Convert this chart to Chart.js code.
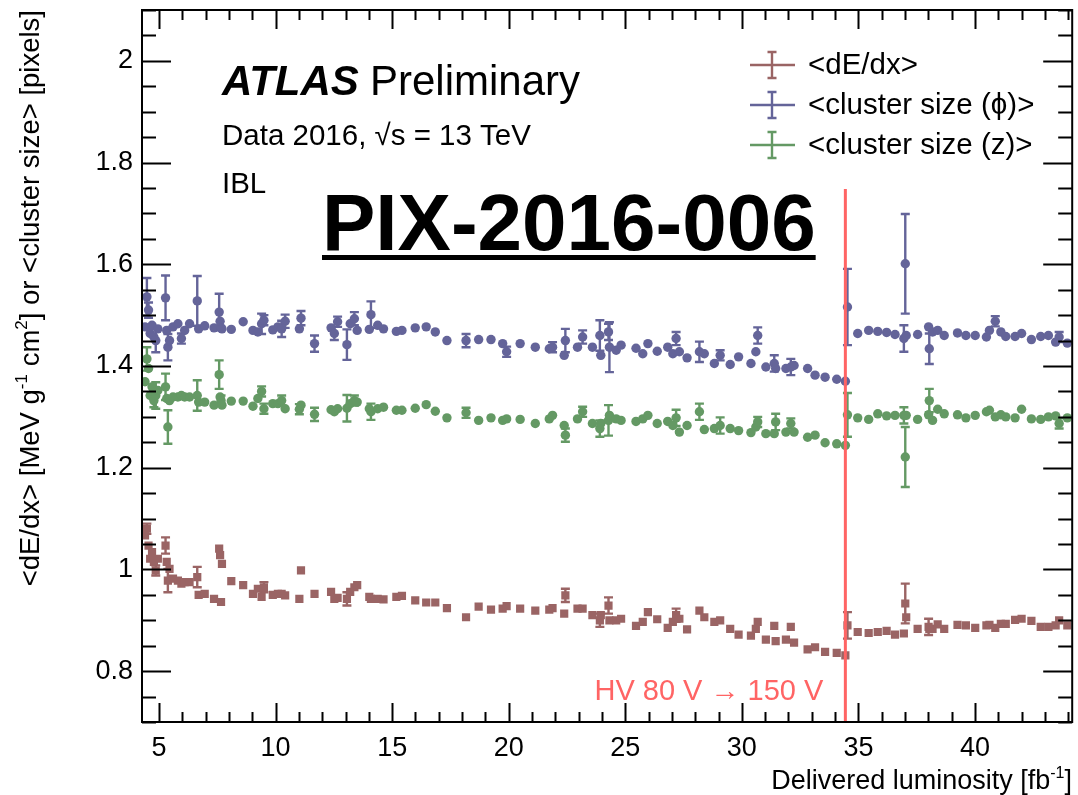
<!DOCTYPE html>
<html>
<head>
<meta charset="utf-8">
<script src="https://cdn.jsdelivr.net/npm/chart.js@4.4.1/dist/chart.umd.min.js"></script>
<style>
  html, body { margin: 0; padding: 0; background: #fff; }
  #wrap { width: 1078px; height: 795px; position: relative; }
</style>
</head>
<body>
<div id="wrap"><canvas id="c"></canvas></div>
<script>
// Delivered luminosity of each run [fb^-1]
const lumi = [
  4.40, 4.48, 4.55, 4.62, 4.70, 4.78, 4.86, 4.95, 5.28, 5.33,
  5.38, 5.45, 5.60, 5.81, 5.96, 6.10, 6.31, 6.64, 6.70, 6.96,
  7.36, 7.58, 7.62, 7.66, 7.70, 8.10, 8.61, 9.03, 9.24, 9.40,
  9.50, 9.88, 10.10, 10.26, 10.41, 11.02, 11.09, 11.67, 12.38, 12.52,
  12.66, 13.06, 13.20, 13.38, 13.50, 14.02, 14.09, 14.38, 14.63, 15.18,
  15.42, 15.99, 16.46, 16.85, 17.35, 18.17, 18.71, 19.24, 19.74, 19.91,
  20.49, 21.14, 21.74, 21.88, 22.38, 22.43, 22.95, 23.17, 23.59, 23.91,
  23.95, 24.28, 24.32, 24.61, 24.82, 25.46, 25.75, 25.97, 26.37, 26.82,
  27.04, 27.18, 27.32, 27.65, 28.18, 28.39, 28.82, 29.07, 29.50, 29.86,
  30.39, 30.60, 30.68, 31.03, 31.39, 31.45, 31.89, 32.10, 32.24, 32.82,
  33.14, 33.57, 34.07, 34.44, 34.53, 34.97, 35.44, 35.83, 36.21, 36.57,
  36.95, 37.01, 37.05, 37.54, 38.01, 38.04, 38.18, 38.40, 38.68, 39.25,
  39.61, 40.01, 40.49, 40.62, 40.87, 41.11, 41.32, 41.72, 42.00, 42.42,
  42.82, 43.15, 43.46, 43.61, 43.96
];

// <dE/dx> [MeV g^-1 cm^2]
const dEdx = [
  1.067, 1.080, 1.047, 1.021, 1.034, 1.015, 0.998, 1.021, 1.047, 1.015,
  0.978, 1.001, 0.982, 0.978, 0.972, 0.975, 0.975, 0.985, 0.950, 0.952,
  0.942, 1.041, 1.028, 0.936, 1.011, 0.977, 0.969, 0.952, 0.962, 0.946,
  0.965, 0.950, 0.952, 0.952, 0.949, 0.942, 0.998, 0.952, 0.956, 0.942,
  0.944, 0.942, 0.956, 0.965, 0.969, 0.946, 0.942, 0.942, 0.941, 0.946,
  0.948, 0.939, 0.935, 0.935, 0.924, 0.906, 0.927, 0.921, 0.923, 0.928,
  0.923, 0.919, 0.921, 0.924, 0.913, 0.949, 0.923, 0.923, 0.910, 0.900,
  0.910, 0.929, 0.900, 0.900, 0.903, 0.889, 0.897, 0.916, 0.902, 0.885,
  0.897, 0.910, 0.903, 0.882, 0.919, 0.906, 0.897, 0.900, 0.883, 0.872,
  0.870, 0.883, 0.897, 0.862, 0.889, 0.859, 0.862, 0.887, 0.856, 0.843,
  0.847, 0.838, 0.836, 0.831, 0.890, 0.877, 0.875, 0.877, 0.879, 0.872,
  0.874, 0.933, 0.906, 0.883, 0.887, 0.883, 0.883, 0.892, 0.883, 0.891,
  0.890, 0.885, 0.890, 0.891, 0.885, 0.893, 0.893, 0.901, 0.903, 0.899,
  0.887, 0.887, 0.890, 0.900, 0.890
];
const dEdxErr = [
  0, 0.010, 0, 0, 0, 0, 0.010, 0, 0.016, 0,
  0.023, 0, 0, 0, 0, 0, 0, 0.020, 0, 0,
  0, 0, 0, 0, 0, 0, 0, 0, 0, 0,
  0.010, 0, 0, 0, 0, 0, 0, 0, 0, 0,
  0, 0.013, 0, 0, 0, 0, 0, 0, 0, 0,
  0, 0, 0, 0, 0, 0, 0, 0, 0, 0,
  0, 0, 0, 0, 0, 0.013, 0, 0, 0, 0.013,
  0, 0.016, 0, 0, 0, 0, 0, 0, 0, 0,
  0, 0.013, 0, 0, 0, 0, 0, 0, 0, 0,
  0, 0, 0, 0, 0, 0, 0, 0, 0, 0,
  0, 0, 0, 0, 0.026, 0, 0, 0, 0, 0,
  0, 0.039, 0, 0, 0.016, 0, 0, 0, 0, 0,
  0, 0, 0, 0, 0, 0, 0, 0, 0, 0,
  0, 0, 0, 0, 0
];

// <cluster size (phi)> [pixels]
const clusterPhi = [
  1.477, 1.536, 1.510, 1.464, 1.480, 1.457, 1.450, 1.473, 1.534, 1.470,
  1.437, 1.450, 1.477, 1.483, 1.454, 1.470, 1.483, 1.528, 1.473, 1.479,
  1.475, 1.506, 1.488, 1.475, 1.473, 1.472, 1.487, 1.470, 1.467, 1.483,
  1.490, 1.471, 1.477, 1.473, 1.488, 1.473, 1.494, 1.444, 1.475, 1.464,
  1.487, 1.442, 1.483, 1.493, 1.470, 1.472, 1.501, 1.480, 1.473, 1.468,
  1.470, 1.475, 1.477, 1.467, 1.450, 1.450, 1.452, 1.452, 1.444, 1.428,
  1.444, 1.437, 1.434, 1.437, 1.421, 1.450, 1.437, 1.457, 1.437, 1.460,
  1.421, 1.467, 1.437, 1.431, 1.441, 1.435, 1.424, 1.444, 1.429, 1.437,
  1.424, 1.454, 1.428, 1.416, 1.428, 1.424, 1.405, 1.421, 1.403, 1.418,
  1.405, 1.428, 1.460, 1.398, 1.405, 1.395, 1.395, 1.398, 1.401, 1.395,
  1.382, 1.378, 1.374, 1.370, 1.516, 1.464, 1.470, 1.468, 1.466, 1.462,
  1.454, 1.601, 1.460, 1.462, 1.477, 1.434, 1.467, 1.470, 1.460, 1.465,
  1.460, 1.460, 1.457, 1.470, 1.488, 1.467, 1.458, 1.458, 1.464, 1.452,
  1.458, 1.460, 1.447, 1.457, 1.445
];
const clusterPhiErr = [
  0, 0.037, 0.015, 0, 0, 0, 0.023, 0, 0.044, 0,
  0.026, 0, 0, 0, 0.010, 0, 0, 0.049, 0, 0,
  0, 0.036, 0, 0, 0, 0, 0, 0, 0, 0.020,
  0.010, 0, 0, 0.016, 0.013, 0, 0.014, 0.016, 0, 0.013,
  0.010, 0.030, 0, 0.013, 0, 0, 0.026, 0, 0, 0,
  0, 0, 0, 0, 0, 0.013, 0, 0, 0, 0.010,
  0, 0, 0, 0.010, 0, 0.023, 0, 0.013, 0, 0.030,
  0, 0.016, 0.049, 0, 0, 0, 0, 0, 0, 0,
  0, 0.013, 0, 0, 0.020, 0, 0, 0.010, 0, 0,
  0, 0, 0.016, 0, 0.016, 0, 0, 0.016, 0, 0,
  0, 0, 0, 0, 0.075, 0, 0, 0, 0, 0,
  0.026, 0.098, 0, 0, 0, 0.030, 0, 0, 0, 0,
  0, 0, 0, 0, 0.010, 0, 0, 0, 0, 0,
  0, 0, 0, 0.010, 0
];

// <cluster size (z)> [pixels]
const clusterZ = [
  1.369, 1.414, 1.395, 1.342, 1.359, 1.332, 1.342, 1.352, 1.359, 1.336,
  1.280, 1.332, 1.339, 1.339, 1.342, 1.339, 1.339, 1.342, 1.329, 1.329,
  1.323, 1.383, 1.339, 1.332, 1.323, 1.331, 1.331, 1.321, 1.336, 1.350,
  1.316, 1.326, 1.326, 1.332, 1.316, 1.315, 1.323, 1.305, 1.314, 1.310,
  1.316, 1.317, 1.326, 1.332, 1.329, 1.316, 1.310, 1.316, 1.319, 1.313,
  1.313, 1.317, 1.324, 1.311, 1.298, 1.308, 1.293, 1.298, 1.293, 1.296,
  1.295, 1.287, 1.296, 1.303, 1.283, 1.264, 1.296, 1.310, 1.287, 1.277,
  1.287, 1.293, 1.303, 1.296, 1.293, 1.291, 1.296, 1.303, 1.287, 1.291,
  1.283, 1.298, 1.270, 1.283, 1.310, 1.275, 1.277, 1.283, 1.277, 1.273,
  1.269, 1.280, 1.290, 1.267, 1.267, 1.290, 1.270, 1.287, 1.270, 1.260,
  1.264, 1.249, 1.247, 1.244, 1.304, 1.298, 1.295, 1.306, 1.302, 1.303,
  1.303, 1.221, 1.303, 1.295, 1.304, 1.332, 1.293, 1.315, 1.306, 1.304,
  1.298, 1.303, 1.310, 1.313, 1.300, 1.304, 1.300, 1.298, 1.315, 1.296,
  1.295, 1.300, 1.302, 1.287, 1.298
];
const clusterZErr = [
  0, 0.023, 0, 0, 0, 0.013, 0.026, 0, 0.026, 0,
  0.033, 0, 0, 0, 0, 0, 0, 0.030, 0, 0,
  0, 0.028, 0, 0.010, 0, 0, 0, 0, 0, 0.010,
  0.010, 0, 0, 0.010, 0, 0.010, 0, 0.013, 0, 0,
  0, 0.026, 0, 0.010, 0, 0, 0.016, 0, 0, 0,
  0, 0, 0, 0, 0, 0.010, 0, 0, 0, 0,
  0, 0, 0, 0, 0, 0.013, 0, 0.010, 0, 0.016,
  0, 0.030, 0, 0, 0, 0, 0, 0, 0, 0,
  0, 0.016, 0, 0, 0.016, 0, 0, 0.016, 0, 0,
  0, 0, 0.010, 0, 0, 0.016, 0, 0.010, 0, 0,
  0, 0, 0, 0, 0.043, 0, 0, 0, 0, 0,
  0.016, 0.059, 0, 0, 0, 0.023, 0, 0, 0, 0,
  0, 0, 0, 0, 0, 0, 0, 0, 0, 0,
  0, 0, 0, 0.010, 0
];

// Axis ticks
const xMajorTicks = [5, 10, 15, 20, 25, 30, 35, 40];
const yMajorTicks = [0.8, 1.0, 1.2, 1.4, 1.6, 1.8, 2.0];

// Luminosity at which the IBL bias voltage was raised
const hvChangeLumi = 34.44;

const FONT = '"Liberation Sans", Arial, Helvetica, sans-serif';

const series = [
  { label: '<dE/dx>',            values: dEdx,       errors: dEdxErr,       color: '#9a6464', pointStyle: 'rect',   radius: 5.8 },
  { label: '<cluster size (\u03D5)>', values: clusterPhi, errors: clusterPhiErr, color: '#646499', pointStyle: 'circle', radius: 4.7 },
  { label: '<cluster size (z)>', values: clusterZ,   errors: clusterZErr,   color: '#649964', pointStyle: 'circle', radius: 4.7 }
];

// Text with superscript pieces; parts = [[text, isSup], ...]
function richWidth(ctx, parts, size) {
  let w = 0;
  for (const [t, sup] of parts) {
    ctx.font = (sup ? Math.round(size * 0.6) : size) + 'px ' + FONT;
    w += ctx.measureText(t).width;
  }
  return w;
}
function drawRich(ctx, parts, x, y, size) {
  let cx = x;
  for (const [t, sup] of parts) {
    ctx.font = (sup ? Math.round(size * 0.6) : size) + 'px ' + FONT;
    ctx.fillText(t, cx, sup ? y - size * 0.42 : y);
    cx += ctx.measureText(t).width;
  }
}

const decor = {
  id: 'decor',
  beforeDatasetsDraw(chart) {
    const { ctx, scales: { x, y } } = chart;
    ctx.save();
    ctx.lineWidth = 2.4;
    for (const s of series) {
      ctx.strokeStyle = s.color;
      s.values.forEach((v, i) => {
        const e = s.errors[i];
        if (!e) return;
        const px = x.getPixelForValue(lumi[i]);
        const yTop = y.getPixelForValue(v + e);
        const yBot = y.getPixelForValue(v - e);
        ctx.beginPath();
        ctx.moveTo(px, yTop); ctx.lineTo(px, yBot);
        ctx.moveTo(px - 4.5, yTop); ctx.lineTo(px + 4.5, yTop);
        ctx.moveTo(px - 4.5, yBot); ctx.lineTo(px + 4.5, yBot);
        ctx.stroke();
      });
    }
    ctx.restore();
  },
  afterDatasetsDraw(chart) {
    const { ctx, chartArea: a, scales: { x, y } } = chart;
    ctx.save();

    // HV change marker
    const hx = x.getPixelForValue(hvChangeLumi);
    ctx.strokeStyle = '#ff6464';
    ctx.lineWidth = 3;
    ctx.beginPath();
    ctx.moveTo(hx, 189); ctx.lineTo(hx, a.bottom);
    ctx.stroke();
    ctx.fillStyle = '#ff6464';
    ctx.font = '29px ' + FONT;
    ctx.textAlign = 'right';
    ctx.textBaseline = 'alphabetic';
    ctx.fillText('HV 80 V \u2192 150 V', hx - 22, 700);

    // frame
    ctx.strokeStyle = '#000';
    ctx.lineWidth = 2;
    ctx.strokeRect(a.left, a.top, a.right - a.left, a.bottom - a.top);

    // y ticks (left and right, pointing inwards)
    ctx.beginPath();
    for (let k = 0; k <= 28; k++) {
      const v = 0.7 + k * 0.05;
      const py = Math.round(y.getPixelForValue(v)) + 0.5;
      const major = Math.abs(((v - 0.8) / 0.2) - Math.round((v - 0.8) / 0.2)) < 1e-6;
      const len = major ? 29 : 14;
      ctx.moveTo(a.left, py); ctx.lineTo(a.left + len, py);
      ctx.moveTo(a.right, py); ctx.lineTo(a.right - len, py);
    }
    // x ticks (bottom and top)
    for (let v = 5; v <= 44; v++) {
      const px = Math.round(x.getPixelForValue(v)) + 0.5;
      const len = v % 5 === 0 ? 19 : 10;
      ctx.moveTo(px, a.bottom); ctx.lineTo(px, a.bottom - len);
      ctx.moveTo(px, a.top); ctx.lineTo(px, a.top + len);
    }
    ctx.stroke();

    // labels
    ctx.fillStyle = '#000';
    ctx.textAlign = 'left';
    ctx.font = 'italic bold 42px ' + FONT;
    ctx.fillText('ATLAS', 222, 95);
    ctx.font = '42px ' + FONT;
    ctx.fillText('Preliminary', 370, 95);
    ctx.font = '29.5px ' + FONT;
    ctx.fillText('Data 2016, \u221As = 13 TeV', 222, 145);
    ctx.fillText('IBL', 222, 193);

    ctx.font = 'bold 80px ' + FONT;
    ctx.fillText('PIX-2016-006', 322, 250);
    const pw = ctx.measureText('PIX-2016-006').width;
    ctx.fillRect(322, 255, pw, 5);

    // legend
    ctx.font = '29.5px ' + FONT;
    ctx.lineWidth = 2.4;
    series.forEach((s, i) => {
      const cy = 65 + i * 40;
      ctx.strokeStyle = s.color;
      ctx.beginPath();
      ctx.moveTo(750, cy); ctx.lineTo(795, cy);
      ctx.moveTo(772, cy - 13); ctx.lineTo(772, cy + 13);
      ctx.moveTo(767.5, cy - 13); ctx.lineTo(776.5, cy - 13);
      ctx.moveTo(767.5, cy + 13); ctx.lineTo(776.5, cy + 13);
      ctx.stroke();
      ctx.fillStyle = '#000';
      ctx.textBaseline = 'middle';
      ctx.fillText(s.label, 808, cy + 1);
    });
    ctx.textBaseline = 'alphabetic';

    // axis titles
    const xt = [['Delivered luminosity [fb', false], ['-1', true], [']', false]];
    const xw = richWidth(ctx, xt, 27);
    drawRich(ctx, xt, 1072 - xw, 789, 27);

    const yt = [['<dE/dx> [MeV g', false], ['-1', true], [' cm', false], ['2', true], ['] or <cluster size> [pixels]', false]];
    const yw = richWidth(ctx, yt, 27.5);
    ctx.translate(39, 10 + yw);
    ctx.rotate(-Math.PI / 2);
    drawRich(ctx, yt, 0, 0, 27.5);

    ctx.restore();
  }
};

new Chart(document.getElementById('c'), {
  type: 'scatter',
  data: {
    datasets: series.map(s => ({
      label: s.label,
      data: s.values.map((v, i) => ({ x: lumi[i], y: v })),
      backgroundColor: s.color,
      borderColor: s.color,
      borderWidth: 0,
      pointStyle: s.pointStyle,
      pointRadius: s.radius,
      pointHoverRadius: s.radius
    }))
  },
  options: {
    responsive: true,
    maintainAspectRatio: false,
    animation: false,
    layout: { padding: { top: 10, right: 4, left: 0, bottom: 0 } },
    plugins: { legend: { display: false }, tooltip: { enabled: false } },
    scales: {
      x: {
        type: 'linear', min: 4.27, max: 44.17,
        afterBuildTicks: s => { s.ticks = xMajorTicks.map(v => ({ value: v })); },
        afterFit: s => { s.height = 73; s.paddingLeft = 0; s.paddingRight = 0; },
        grid: { display: false, drawTicks: false },
        border: { display: false },
        ticks: { color: '#000', font: { family: FONT, size: 27 }, padding: 10, maxRotation: 0, autoSkip: false,
                 callback: v => String(v) }
      },
      y: {
        type: 'linear', min: 0.7, max: 2.1,
        afterBuildTicks: s => { s.ticks = yMajorTicks.map(v => ({ value: v })); },
        afterFit: s => { s.width = 142; s.paddingTop = 0; s.paddingBottom = 0; },
        grid: { display: false, drawTicks: false },
        border: { display: false },
        ticks: { color: '#000', font: { family: FONT, size: 27 }, padding: 9, autoSkip: false,
                 callback: v => String(+v.toFixed(1)) }
      }
    }
  },
  plugins: [decor]
});
</script>
</body>
</html>
